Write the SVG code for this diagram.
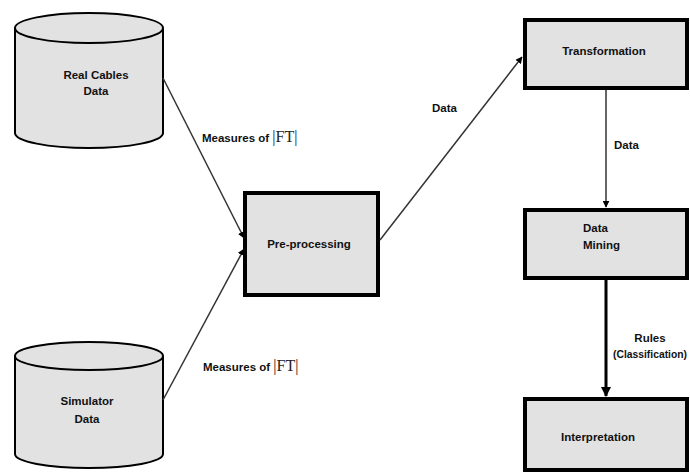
<svg xmlns="http://www.w3.org/2000/svg" width="690" height="474" viewBox="0 0 690 474">
<style>
.t{font-family:"Liberation Sans",Arial,sans-serif;font-weight:bold;font-size:11.5px;fill:#111;}
.s{font-family:"Liberation Serif","Times New Roman",serif;font-weight:normal;font-size:16px;fill:#222;}
.box{fill:#e2e2e2;stroke:#000;stroke-width:4;}
.cyl{fill:#e2e2e2;stroke:#000;stroke-width:2;}
.ln{stroke:#333;stroke-width:1.5;fill:none;}
</style>
<defs>
<marker id="ah" viewBox="0 0 10 10" refX="9" refY="5" markerWidth="7" markerHeight="7" markerUnits="userSpaceOnUse" orient="auto"><path d="M0,0 L10,5 L0,10 z" fill="#000"/></marker>
<marker id="ah2" viewBox="0 0 10 10" refX="9" refY="5" markerWidth="10" markerHeight="10" markerUnits="userSpaceOnUse" orient="auto"><path d="M0,0 L10,5 L0,10 z" fill="#000"/></marker>
</defs>
<rect width="690" height="474" fill="#fff"/>
<g id="real-cables">
<path class="cyl" d="M15,28 L15,133 A74,15 0 0 0 163,133 L163,28"/>
<ellipse class="cyl" cx="89" cy="28" rx="74" ry="15"/>
<text class="t" x="96" y="79" text-anchor="middle">Real Cables</text>
<text class="t" x="96" y="95" text-anchor="middle">Data</text>
</g>
<g id="simulator">
<path class="cyl" d="M15,356 L15,454 A74,14 0 0 0 163,454 L163,356"/>
<ellipse class="cyl" cx="89" cy="356" rx="74" ry="14"/>
<text class="t" x="87" y="405" text-anchor="middle">Simulator</text>
<text class="t" x="87" y="423" text-anchor="middle">Data</text>
</g>
<g id="preprocessing">
<rect class="box" x="245" y="193" width="133" height="102"/>
<text class="t" x="309" y="248" text-anchor="middle">Pre-processing</text>
</g>
<g id="transformation">
<rect class="box" x="525" y="20" width="162" height="68"/>
<text class="t" x="604" y="55" text-anchor="middle">Transformation</text>
</g>
<g id="datamining">
<rect class="box" x="525" y="210" width="162" height="68"/>
<text class="t" x="583" y="232">Data</text>
<text class="t" x="583" y="249">Mining</text>
</g>
<g id="interpretation">
<rect class="box" x="525" y="399" width="162" height="71"/>
<text class="t" x="598" y="441" text-anchor="middle">Interpretation</text>
</g>
<g id="connectors">
<line class="ln" x1="163" y1="78" x2="244" y2="238" marker-end="url(#ah)"/>
<line class="ln" x1="163" y1="400" x2="244" y2="249" marker-end="url(#ah)"/>
<line class="ln" x1="380" y1="240" x2="522" y2="57" marker-end="url(#ah)"/>
<line class="ln" x1="606" y1="90" x2="606" y2="207" marker-end="url(#ah)"/>
<line x1="606" y1="280" x2="606" y2="396" stroke="#000" stroke-width="3" marker-end="url(#ah2)"/>
<text class="t" x="202" y="142">Measures of <tspan class="s">|FT|</tspan></text>
<text class="t" x="203" y="371">Measures of <tspan class="s">|FT|</tspan></text>
<text class="t" x="432" y="112">Data</text>
<text class="t" x="614" y="149">Data</text>
<text class="t" x="650" y="342" text-anchor="middle">Rules</text>
<text class="t" x="613" y="358" style="font-size:10.5px" textLength="74" lengthAdjust="spacingAndGlyphs">(Classification)</text>
</g>
</svg>
